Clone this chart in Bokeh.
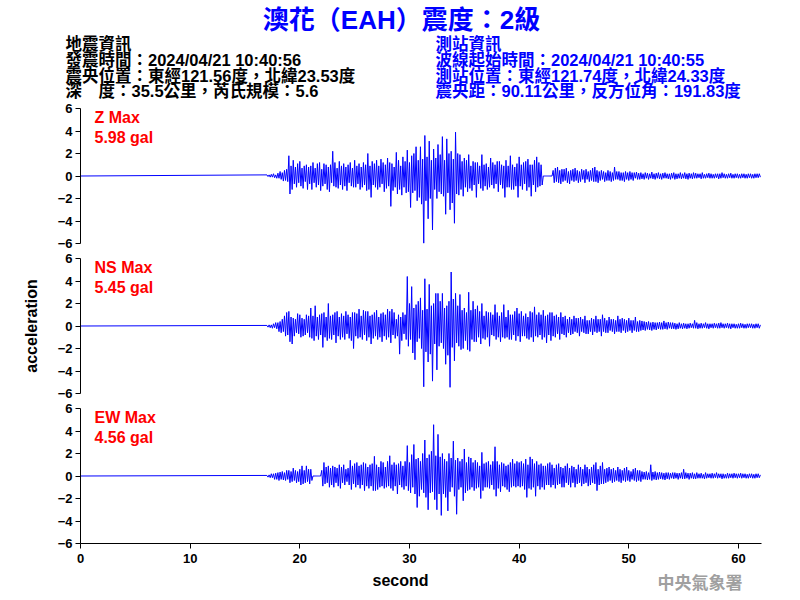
import numpy as np
from bokeh.plotting import figure
from bokeh.models import Range1d, Label, FixedTicker
from bokeh.layouts import column, row
from bokeh.embed import file_html
from bokeh.resources import INLINE

# ------------------------------------------------------------------ data
title_text = "澳花（EAH）震度：2級"
quake_info = [
    "地震資訊",
    "發震時間：2024/04/21 10:40:56",
    "震央位置：東經121.56度，北緯23.53度",
    "深　度：35.5公里，芮氏規模：5.6",
]
station_info = [
    "測站資訊",
    "波線起始時間：2024/04/21 10:40:55",
    "測站位置：東經121.74度，北緯24.33度",
    "震央距：90.11公里，反方位角：191.83度",
]
components = ["Z", "NS", "EW"]
max_gal = ["5.98", "5.45", "4.56"]
x_ticks = [0, 10, 20, 30, 40, 50, 60]
y_ticks = [-6, -4, -2, 0, 2, 4, 6]
x_end = 62.1
record_start = 0.0      # record begins (quiet baseline)
baseline_level = 0.0
trace_start = 17.0      # first sample of the active part (s)
sample_step = 0.1       # s

# one row = one second (17.0 ... 61.9), then 62.0
z_acc = [
    0.1, -0.05, 0.1, -0.1, 0.15, -0.1, 0.2, -0.15, 0.1, -0.2,
    0.25, -0.2, 0.4, -0.3, 0.3, -0.45, 0.5, -0.4, 0.6, -0.5,
    1.8, -1.6, 0.9, -1.2, 1.4, -0.7, 0.8, -1.0, 1.1, -0.6,
    1.3, -0.9, 0.7, -1.1, 0.9, -0.5, 1.0, -1.2, 0.8, -0.7,
    0.9, -1.2, 1.2, -0.6, 0.7, -1.0, 1.1, -0.8, 1.2, -1.3,
    0.6, -0.9, 1.1, -0.7, 1.0, -1.2, 0.8, -1.4, 1.0, -0.6,
    2.2, -0.9, 1.2, -1.0, 0.7, -1.1, 1.3, -0.8, 0.9, -1.2,
    1.1, -0.9, 0.8, -1.3, 1.0, -0.6, 1.2, -0.9, 0.7, -1.0,
    1.4, -1.0, 0.9, -0.7, 1.1, -1.2, 0.8, -1.0, 1.2, -0.8,
    1.0, -1.3, 2.0, -1.2, 0.9, -1.9, 1.3, -0.8, 1.1, -1.0,
    1.4, -1.2, 0.9, -1.0, 1.5, -0.7, 1.2, -1.4, 1.0, -1.1,
    1.6, -0.9, 1.2, -2.7, 1.1, -1.3, 0.8, -1.0, 2.1, -1.6,
    1.4, -1.2, 0.9, -1.7, 1.7, -1.0, 1.3, -1.5, 2.3, -1.4,
    1.2, -2.8, 1.8, -1.5, 2.0, -1.3, 2.6, -2.2, 1.4, -1.9,
    2.6, -2.5, 1.5, -5.98, 3.6, -2.2, 1.7, -3.8, 3.1, -2.0,
    1.4, -4.8, 2.4, -1.2, 1.6, -2.0, 2.8, -1.4, 1.9, -1.6,
    3.5, -1.8, 1.4, -3.4, 3.3, -1.5, 2.0, -3.0, 2.2, -2.4,
    1.5, -4.2, 3.9, -1.6, 2.0, -1.7, 1.9, -1.2, 1.3, -1.8,
    1.6, -1.0, 1.4, -1.4, 1.9, -1.1, 0.9, -1.3, 1.3, -0.8,
    1.2, -1.9, 1.2, -0.7, 0.9, -1.1, 1.9, -1.3, 1.0, -0.9,
    1.1, -1.2, 0.8, -1.0, 1.6, -0.8, 1.2, -1.1, 1.0, -0.7,
    1.3, -1.4, 1.3, -0.8, 1.0, -1.1, 0.9, -1.9, 1.4, -1.0,
    0.9, -1.0, 1.8, -1.2, 1.0, -1.2, 0.8, -0.9, 1.1, -1.9,
    1.7, -0.9, 1.0, -1.2, 1.2, -0.7, 1.3, -1.3, 1.5, -1.0,
    1.0, -1.8, 1.0, -0.8, 1.4, -1.4, 1.7, -1.0, 1.2, -0.9,
    1.0, -0.8, 0, 0, 0, 0, 0, 0, 0, 0,
    0, 0.5, -0.6, 0.7, -0.5, 0.8, -0.6, 0.5, -0.7, 0.6,
    -0.5, 0.6, -0.4, 0.7, -0.6, 0.4, -0.7, 0.5, -0.4, 0.6,
    -0.5, 0.7, -0.4, 0.5, -0.6, 0.4, -0.5, 0.6, -0.3, 0.5,
    -0.6, 0.6, -0.3, 0.4, -0.5, 0.5, -0.4, 0.7, -0.5, 0.8,
    -0.5, 0.5, -0.6, 0.4, -0.4, 0.5, -0.3, 0.4, -0.5, 0.3,
    -0.4, 0.5, -0.4, 0.4, -0.5, 0.3, -0.4, 0.8, -0.3, 0.4,
    -0.3, 0.4, -0.4, 0.3, -0.4, 0.3, -0.5, 0.4, -0.3, 0.3,
    -0.4, 0.4, -0.3, 0.3, -0.4, 0.3, -0.2, 0.35, -0.3, 0.25,
    -0.3, 0.3, -0.25, 0.2, -0.3, 0.3, -0.2, 0.25, -0.3, 0.2,
    -0.2, 0.35, -0.25, 0.2, -0.3, 0.25, -0.2, 0.3, -0.25, 0.2,
    -0.3, 0.25, -0.2, 0.3, -0.2, 0.2, -0.25, 0.2, -0.3, 0.25,
    -0.2, 0.3, -0.3, 0.2, -0.25, 0.2, -0.2, 0.3, -0.25, 0.2,
    -0.2, 0.3, -0.25, 0.2, -0.3, 0.25, -0.2, 0.2, -0.25, 0.3,
    -0.2, 0.25, -0.2, 0.2, -0.15, 0.2, -0.25, 0.3, -0.2, 0.15,
    -0.2, 0.2, -0.15, 0.25, -0.2, 0.2, -0.2, 0.15, -0.2, 0.2,
    -0.15, 0.2, -0.25, 0.2, -0.2, 0.3, -0.15, 0.2, -0.2, 0.15,
    -0.2, 0.2, -0.15, 0.25, -0.2, 0.15, -0.2, 0.2, -0.15, 0.2,
    -0.2, 0.15, -0.2, 0.2, -0.15, 0.2, -0.2, 0.15, -0.2, 0.2,
    -0.15, 0.2, -0.2, 0.15, -0.2, 0.2, -0.15, 0.2, -0.15, 0.2,
    -0.1,
]

ns_acc = [
    0.05, -0.1, 0.1, -0.15, 0.1, -0.2, 0.2, -0.15, 0.3, -0.25,
    0.3, -0.5, 0.4, -0.6, 0.6, -0.5, 0.9, -0.9, 1.2, -0.8,
    1.3, -1.4, 0.8, -1.6, 0.7, -0.9, 0.6, -0.6, 1.1, -0.7,
    1.0, -1.0, 0.7, -0.9, 0.6, -0.8, 1.0, -0.6, 0.9, -1.0,
    1.6, -1.1, 0.9, -1.3, 1.8, -0.9, 0.8, -1.2, 1.0, -0.8,
    1.1, -1.9, 1.2, -1.0, 0.8, -1.3, 2.0, -1.1, 0.9, -1.2,
    1.0, -0.8, 1.2, -1.5, 1.3, -0.9, 0.8, -1.2, 1.1, -1.0,
    0.9, -1.2, 1.3, -0.7, 1.0, -1.1, 0.8, -1.3, 1.2, -2.0,
    1.2, -0.9, 1.1, -1.1, 1.5, -1.0, 0.9, -1.2, 1.4, -0.8,
    1.3, -1.3, 1.3, -1.0, 0.9, -1.6, 1.0, -1.1, 1.2, -0.9,
    1.4, -1.2, 0.8, -1.0, 1.1, -1.4, 1.2, -0.9, 1.0, -1.2,
    1.5, -1.0, 1.3, -1.5, 1.5, -0.8, 1.2, -1.1, 0.6, -0.9,
    1.0, -2.5, 0.8, -1.3, 1.2, -0.7, 1.0, -1.2, 4.4, -1.8,
    2.0, -1.2, 3.5, -2.4, 1.6, -3.0, 1.9, -1.4, 2.2, -1.1,
    2.5, -2.0, 1.4, -5.4, 4.2, -2.3, 1.5, -3.2, 3.7, -2.5,
    1.8, -4.9, 2.0, -1.6, 2.9, -3.9, 2.9, -1.8, 2.2, -1.5,
    2.9, -2.0, 1.6, -3.4, 1.8, -2.6, 2.2, -5.45, 4.8, -1.9,
    2.4, -3.1, 2.9, -1.5, 1.8, -1.8, 2.8, -2.1, 1.4, -2.0,
    1.6, -1.3, 1.2, -2.1, 3.0, -2.25, 1.4, -1.2, 2.2, -1.4,
    1.5, -1.4, 1.8, -1.0, 1.3, -1.6, 2.0, -1.1, 0.9, -1.2,
    1.3, -1.0, 1.2, -1.8, 1.2, -0.8, 1.0, -0.9, 1.9, -1.2,
    1.2, -1.0, 0.9, -1.4, 1.2, -1.0, 1.9, -1.1, 0.8, -1.0,
    1.4, -1.2, 1.0, -1.2, 1.0, -0.8, 1.3, -1.3, 1.6, -0.9,
    1.1, -1.4, 1.3, -0.9, 0.9, -0.9, 1.1, -1.1, 0.8, -1.2,
    1.3, -1.0, 1.2, -1.4, 1.7, -0.9, 1.0, -1.0, 1.2, -0.8,
    1.0, -1.2, 1.4, -1.0, 0.9, -1.5, 1.0, -0.8, 1.2, -1.3,
    1.2, -0.9, 0.9, -1.0, 1.0, -0.7, 0.8, -1.2, 1.2, -0.7,
    0.8, -0.8, 0.9, -1.0, 0.6, -0.6, 0.8, -0.8, 0.6, -0.7,
    0.9, -0.5, 0.7, -0.6, 0.7, -0.9, 0.8, -0.5, 0.6, -0.6,
    0.9, -0.7, 0.5, -0.7, 0.5, -0.5, 0.7, -0.8, 0.6, -0.5,
    0.9, -0.6, 0.6, -0.5, 0.6, -0.9, 1.0, -0.5, 0.7, -0.6,
    0.5, -0.6, 0.8, -0.4, 0.6, -0.5, 0.6, -0.7, 0.5, -0.5,
    0.9, -0.5, 0.6, -0.6, 0.7, -0.4, 0.6, -0.6, 0.5, -0.5,
    0.7, -0.4, 0.5, -0.6, 0.5, -0.4, 0.8, -0.5, 0.4, -0.5,
    0.5, -0.4, 0.45, -0.35, 0.4, -0.4, 0.35, -0.3, 0.4, -0.35,
    0.3, -0.4, 0.35, -0.3, 0.3, -0.35, 0.3, -0.25, 0.35, -0.3,
    0.3, -0.3, 0.45, -0.25, 0.3, -0.3, 0.35, -0.2, 0.3, -0.25,
    0.3, -0.25, 0.25, -0.3, 0.2, -0.25, 0.3, -0.2, 0.2, -0.25,
    0.25, -0.2, 0.2, -0.25, 0.2, -0.2, 0.25, -0.15, 0.2, -0.2,
    0.5, -0.2, 0.3, -0.25, 0.2, -0.2, 0.25, -0.2, 0.2, -0.15,
    0.3, -0.2, 0.2, -0.25, 0.2, -0.15, 0.2, -0.2, 0.25, -0.15,
    0.2, -0.2, 0.25, -0.2, 0.3, -0.15, 0.2, -0.2, 0.2, -0.15,
    0.25, -0.2, 0.2, -0.25, 0.2, -0.15, 0.2, -0.2, 0.15, -0.2,
    0.2, -0.2, 0.25, -0.15, 0.2, -0.2, 0.15, -0.2, 0.2, -0.15,
    0.2, -0.15, 0.2, -0.2, 0.15, -0.2, 0.2, -0.15, 0.2, -0.2,
    0.1,
]

ew_acc = [
    0.05, -0.1, 0.1, -0.15, 0.2, -0.15, 0.2, -0.3, 0.25, -0.3,
    0.3, -0.4, 0.35, -0.3, 0.4, -0.35, 0.3, -0.4, 0.5, -0.3,
    0.5, -0.6, 0.4, -0.5, 0.7, -0.4, 0.5, -0.6, 0.4, -0.5,
    0.6, -0.8, 0.9, -0.7, 0.5, -0.6, 0.9, -0.5, 0.6, -0.7,
    0.6, -0.4, 0, 0, 0, 0, 0, 0, 0, 0,
    0.5, -0.9, 1.2, -0.7, 0.8, -0.6, 0.9, -1.0, 0.7, -0.8,
    0.9, -1.0, 0.8, -0.6, 0.7, -0.9, 1.0, -1.1, 0.8, -0.6,
    1.0, -0.8, 0.6, -0.5, 0.7, -0.8, 1.4, -1.2, 0.9, -0.7,
    1.1, -1.0, 1.2, -0.8, 0.9, -1.1, 1.0, -0.8, 1.2, -1.3,
    1.1, -0.9, 0.8, -1.1, 1.0, -0.9, 1.1, -1.3, 1.75, -1.3,
    1.0, -1.2, 0.8, -1.0, 1.3, -0.9, 1.2, -1.1, 0.8, -1.0,
    1.3, -0.9, 1.8, -1.1, 1.0, -1.3, 1.2, -0.9, 1.0, -1.6,
    1.1, -0.8, 1.3, -1.0, 0.9, -1.2, 1.3, -0.9, 2.7, -1.3,
    1.2, -1.5, 1.9, -1.0, 2.8, -1.6, 1.5, -2.8, 1.6, -1.8,
    1.3, -1.2, 2.0, -1.5, 3.2, -1.9, 1.6, -3.0, 1.9, -1.5,
    2.2, -1.4, 4.56, -2.1, 1.8, -3.0, 3.7, -1.6, 1.7, -3.5,
    2.0, -1.6, 1.5, -1.9, 1.3, -3.1, 2.0, -1.4, 1.6, -1.0,
    3.1, -1.8, 1.4, -3.4, 1.6, -1.2, 1.3, -1.0, 1.5, -2.2,
    2.4, -1.5, 1.2, -1.3, 1.7, -1.2, 1.6, -1.0, 1.2, -1.3,
    1.4, -1.1, 1.2, -1.0, 0.9, -2.0, 2.1, -1.3, 1.1, -1.0,
    1.2, -1.0, 1.3, -1.1, 1.0, -0.8, 1.3, -1.2, 2.6, -1.8,
    1.3, -1.1, 1.0, -1.4, 1.2, -0.9, 1.1, -1.0, 0.9, -1.2,
    1.0, -1.4, 1.2, -1.0, 1.5, -0.9, 1.1, -1.0, 1.3, -0.9,
    1.2, -1.0, 1.3, -0.9, 1.1, -1.2, 1.5, -1.9, 1.0, -1.1,
    1.7, -1.2, 1.5, -1.0, 1.1, -1.8, 1.3, -0.9, 1.0, -1.2,
    1.1, -1.0, 0.9, -1.2, 0.9, -0.8, 1.1, -0.8, 1.2, -1.0,
    1.0, -0.8, 0.7, -1.1, 1.0, -0.8, 1.1, -0.7, 0.8, -1.0,
    0.7, -1.0, 0.9, -0.6, 1.1, -0.8, 0.7, -1.0, 0.9, -0.6,
    0.8, -1.0, 0.6, -0.7, 1.0, -0.6, 0.8, -0.9, 0.6, -0.7,
    1.0, -0.6, 0.8, -0.9, 0.6, -0.8, 0.8, -0.6, 1.0, -0.7,
    1.2, -1.3, 0.6, -0.8, 0.9, -0.7, 1.2, -0.7, 0.6, -0.6,
    0.7, -0.5, 0.8, -0.4, 0.6, -0.6, 0.7, -0.5, 0.5, -0.4,
    0.8, -0.5, 0.6, -0.6, 0.5, -0.4, 0.7, -0.5, 0.8, -0.4,
    0.5, -0.5, 0.4, -0.3, 0.6, -0.4, 0.7, -0.5, 0.5, -0.4,
    0.5, -0.5, 0.4, -0.3, 0.35, -0.3, 0.4, -0.35, 0.3, -0.3,
    1.0, -0.4, 0.35, -0.3, 0.4, -0.35, 0.3, -0.3, 0.35, -0.25,
    0.3, -0.3, 0.25, -0.35, 0.3, -0.25, 0.3, -0.3, 0.25, -0.2,
    0.3, -0.25, 0.3, -0.2, 0.25, -0.3, 0.25, -0.2, 0.3, -0.25,
    0.6, -0.25, 0.3, -0.2, 0.25, -0.3, 0.25, -0.2, 0.3, -0.25,
    0.2, -0.25, 0.3, -0.2, 0.2, -0.2, 0.25, -0.2, 0.15, -0.25,
    0.3, -0.2, 0.2, -0.15, 0.2, -0.2, 0.25, -0.2, 0.2, -0.15,
    0.3, -0.2, 0.2, -0.15, 0.2, -0.25, 0.2, -0.2, 0.15, -0.2,
    0.25, -0.2, 0.2, -0.15, 0.2, -0.2, 0.25, -0.15, 0.2, -0.2,
    0.2, -0.15, 0.25, -0.2, 0.2, -0.15, 0.2, -0.2, 0.15, -0.2,
    0.2, -0.15, 0.2, -0.2, 0.15, -0.2, 0.2, -0.15, 0.2, -0.15,
    0.1,
]
traces = [z_acc, ns_acc, ew_acc]

# ------------------------------------------------------------------ styles
FONT_MIX = "Liberation Sans, Noto Sans CJK TC"
FONT_LAT = "Liberation Sans"
BLUE = "#0000ff"
RED = "#ff0000"
W = 800
LEFT = 80
RIGHT = 39
FRAME_H = 135

# ------------------------------------------------------------------ header
hdr = figure(width=W, height=100, x_range=Range1d(0, W), y_range=Range1d(100, 0),
             output_backend="svg", toolbar_location=None,
             x_axis_location=None, y_axis_location=None,
             min_border=0, outline_line_color=None)
hdr.grid.visible = False
hdr.add_layout(Label(x=401, y=19, text=title_text, text_font=FONT_MIX,
                     text_font_size="26px", text_font_style="bold",
                     text_color=BLUE, text_align="center", text_baseline="middle"))
for i, (lq, ls) in enumerate(zip(quake_info, station_info)):
    yy = 43.5 + 15.8 * i
    hdr.add_layout(Label(x=65, y=yy, text=lq, text_font=FONT_MIX, text_font_size="16.5px",
                         text_font_style="bold", text_color="black",
                         text_align="left", text_baseline="middle"))
    hdr.add_layout(Label(x=435, y=yy, text=ls, text_font=FONT_MIX, text_font_size="16.5px",
                         text_font_style="bold", text_color=BLUE,
                         text_align="left", text_baseline="middle"))

# ------------------------------------------------------------------ panels
xr = Range1d(0, x_end)
panels = []
for idx, (acc, comp, gal) in enumerate(zip(traces, components, max_gal)):
    last = idx == len(traces) - 1
    bottom = 27 if last else 7
    p = figure(width=W, height=8 + FRAME_H + bottom, x_range=xr, y_range=Range1d(-6, 6),
               output_backend="svg", toolbar_location=None,
               x_axis_location="below" if last else None, y_axis_location="left",
               min_border_left=LEFT, min_border_right=RIGHT,
               min_border_top=8, min_border_bottom=bottom,
               outline_line_color=None)
    p.grid.visible = False
    t = [record_start] + list(trace_start + sample_step * np.arange(len(acc)))
    a = [baseline_level] + list(acc)
    p.line(t, a, line_color=BLUE, line_width=1)

    ax = p.yaxis[0]
    ax.ticker = FixedTicker(ticks=y_ticks)
    ax.minor_tick_line_color = None
    ax.major_tick_out = 5
    ax.major_tick_in = 0
    ax.major_label_standoff = 3
    ax.major_label_text_font = FONT_LAT
    ax.major_label_text_font_style = "bold"
    ax.major_label_text_font_size = "13px"
    ax.major_label_text_color = "black"
    ax.axis_line_color = "black"
    ax.major_tick_line_color = "black"
    if idx == 1:
        ax.axis_label = "acceleration"
        ax.axis_label_text_font = FONT_LAT
        ax.axis_label_text_font_style = "bold"
        ax.axis_label_text_font_size = "16px"
        ax.axis_label_text_color = "black"
        ax.axis_label_standoff = 15
    if last:
        xa = p.xaxis[0]
        xa.ticker = FixedTicker(ticks=x_ticks)
        xa.minor_tick_line_color = None
        xa.major_tick_out = 5
        xa.major_tick_in = 0
        xa.major_label_standoff = 5
        xa.major_label_text_font = FONT_LAT
        xa.major_label_text_font_style = "bold"
        xa.major_label_text_font_size = "13px"
        xa.major_label_text_color = "black"
        xa.axis_line_color = "black"
        xa.major_tick_line_color = "black"

    p.add_layout(Label(x=14, y=FRAME_H - 9, x_units="screen", y_units="screen",
                       text=f"{comp} Max", text_font=FONT_LAT, text_font_size="16px",
                       text_font_style="bold", text_color=RED, text_baseline="middle"))
    p.add_layout(Label(x=14, y=FRAME_H - 29, x_units="screen", y_units="screen",
                       text=f"{gal} gal", text_font=FONT_LAT, text_font_size="16px",
                       text_font_style="bold", text_color=RED, text_baseline="middle"))
    panels.append(p)

# ------------------------------------------------------------------ footer
ftr = figure(width=W, height=30, x_range=Range1d(LEFT, W - RIGHT), y_range=Range1d(30, 0),
             output_backend="svg", toolbar_location=None,
             x_axis_location=None, y_axis_location=None,
             min_border_left=LEFT, min_border_right=RIGHT, min_border_top=0,
             min_border_bottom=0, outline_line_color=None)
ftr.grid.visible = False
ftr.add_layout(Label(x=400, y=10, text="second", text_font=FONT_LAT, text_font_size="16px",
                     text_font_style="bold", text_color="black",
                     text_align="center", text_baseline="middle"))
ftr.add_layout(Label(x=657, y=11, text="中央氣象署", text_font="Noto Sans CJK TC",
                     text_font_size="17px", text_font_style="bold", text_color="#a0a0a0",
                     text_align="left", text_baseline="middle"))

layout = column(row(hdr), *[row(p) for p in panels], row(ftr))
open("out.html", "w").write(file_html(layout, INLINE))
